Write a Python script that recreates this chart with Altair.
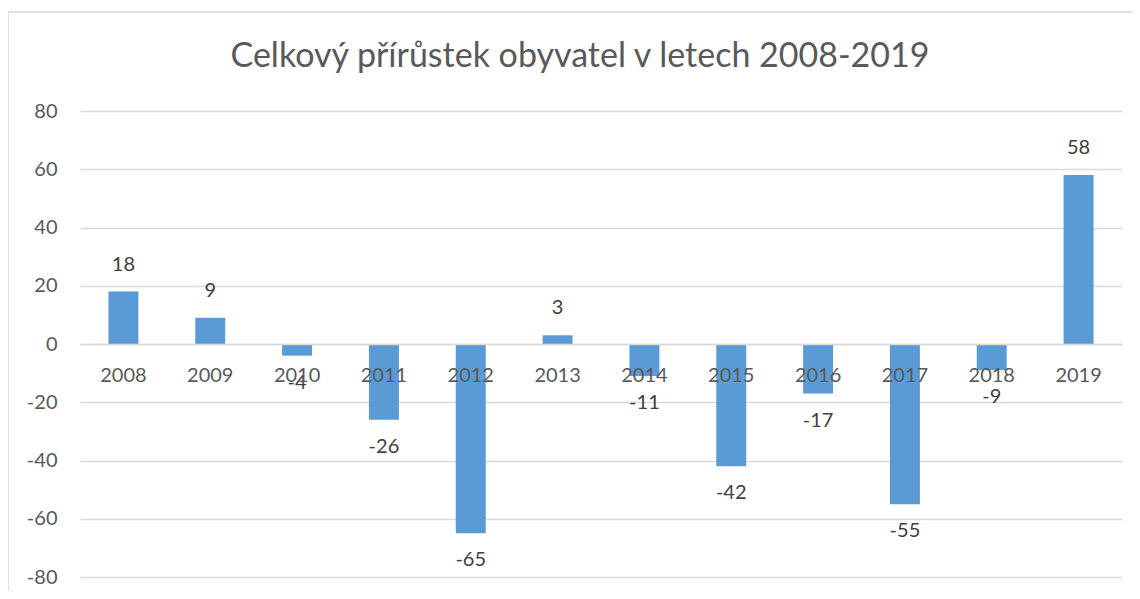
import altair as alt
import pandas as pd

years = ["2008", "2009", "2010", "2011", "2012", "2013", "2014", "2015", "2016", "2017", "2018", "2019"]
values = [18, 9, -4, -26, -65, 3, -11, -42, -17, -55, -9, 58]
y_ticks = [-80, -60, -40, -20, 0, 20, 40, 60, 80]
title_text = "Celkový přírůstek obyvatel v letech 2008-2019"

df = pd.DataFrame({"year": years, "value": values})

FONT = "Lato"
GRID = "#d9d9d9"
TXT = "#595959"
BAR = "#5B9BD5"
FS = 20

x_enc = alt.X(
    "year:N",
    sort=years,
    scale=alt.Scale(paddingInner=0.655, paddingOuter=0.3275),
    axis=alt.Axis(
        title=None,
        offset=-233,
        labelAngle=0,
        labelFont=FONT,
        labelFontSize=FS,
        labelColor=TXT,
        labelPadding=21,
        ticks=False,
        domainColor=GRID,
        domainWidth=1.5,
        zindex=1,
    ),
)
y_scale = alt.Scale(domain=[-80, 80], nice=False)

bars = alt.Chart(df).mark_bar(color=BAR).encode(
    x=x_enc,
    y=alt.Y(
        "value:Q",
        scale=y_scale,
        axis=alt.Axis(
            title=None,
            values=y_ticks,
            labelExpr="datum.value + ''",
            labelFont=FONT,
            labelFontSize=FS,
            labelColor=TXT,
            labelPadding=23,
            ticks=False,
            domain=False,
            gridColor=GRID,
            gridWidth=1.5,
        ),
    ),
)

base = alt.Chart(df).transform_calculate(lab="datum.value + ''")

pos_labels = base.transform_filter("datum.value >= 0").mark_text(
    font=FONT, fontSize=FS, color="#404040", baseline="middle", dy=-27
).encode(
    x=alt.X("year:N", sort=years),
    y=alt.Y("value:Q", scale=y_scale),
    text="lab:N",
)
neg_labels = base.transform_filter("datum.value < 0").mark_text(
    font=FONT, fontSize=FS, color="#404040", baseline="middle", dy=27
).encode(
    x=alt.X("year:N", sort=years),
    y=alt.Y("value:Q", scale=y_scale),
    text="lab:N",
)

one = pd.DataFrame({"a": [0]})

border = alt.Chart(one).mark_rect(
    fillOpacity=0, stroke=GRID, strokeWidth=1.5
).encode(
    x=alt.value(-72), x2=alt.value(1200), y=alt.value(-99), y2=alt.value(700)
)

title = alt.Chart(one).mark_text(
    font=FONT, fontSize=34, color=TXT, baseline="middle", align="center"
).encode(
    x=alt.value(500), y=alt.value(-54), text=alt.value(title_text)
)

chart = alt.layer(border, bars, pos_labels, neg_labels, title).properties(
    width=1042,
    height=466,
    autosize=alt.AutoSizeParams(type="none"),
    padding={"left": 72, "top": 103, "right": 10, "bottom": 14},
).configure_view(stroke=None)

chart.save("out.html", embed_options={"renderer": "svg", "actions": False})
